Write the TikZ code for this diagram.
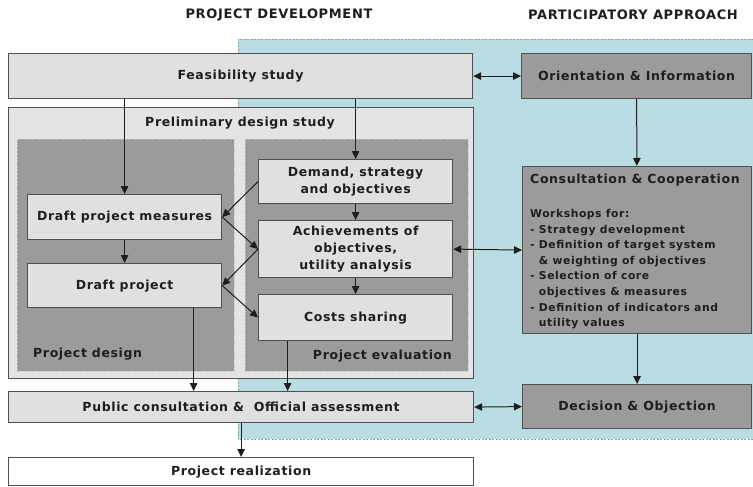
\documentclass[tikz,border=0pt]{standalone}
\usepackage{fontspec}
\setmainfont{DejaVu Sans}[LetterSpace=5]
\usetikzlibrary{arrows.meta,calc}

\definecolor{cCyan}{HTML}{B9DDE2}
\definecolor{cLight}{HTML}{E0E0E0}
\definecolor{cPrelim}{HTML}{E4E4E4}
\definecolor{cDark}{HTML}{9B9B9B}
\definecolor{cEdge}{HTML}{505050}
\definecolor{cDot}{HTML}{C4C4C4}
\definecolor{cBgEdge}{HTML}{8FA3A6}
\definecolor{cInk}{HTML}{1E1E1E}

\tikzset{
  boxbase/.style={draw=cEdge, line width=1.2pt, inner sep=0pt, anchor=north west,
    font=\fontsize{12.5}{17}\selectfont\bfseries, text=cInk, align=center},
  lbox/.style={boxbase, fill=cLight},
  dbox/.style={boxbase, fill=cDark},
  wbox/.style={boxbase, fill=white},
  pbox/.style={boxbase, fill=cPrelim},
  subarea/.style={anchor=north west, inner sep=0pt, fill=cDark, draw=cDot,
    line width=0.8pt, dash pattern=on 1.2pt off 1.2pt},
  lbl/.style={inner sep=0pt, font=\fontsize{12.5}{17}\selectfont\bfseries, text=cInk},
  smalltxt/.style={inner sep=0pt, font=\fontsize{10.8}{15.6}\selectfont\bfseries, text=cInk, align=left},
  head/.style={inner sep=0pt, font=\fontsize{13}{15}\selectfont\bfseries, text=cInk},
  arr/.style={draw=cInk, line width=1pt, -{Triangle[length=8pt,width=7.5pt]}},
  darr/.style={draw=cInk, line width=1pt, {Triangle[length=8pt,width=7.5pt]}-{Triangle[length=8pt,width=7.5pt]}},
}

\begin{document}
\begin{tikzpicture}[x=1pt,y=-1pt]
\useasboundingbox (0,0) rectangle (753,487);

% participatory approach background
\fill[cCyan] (238,39) rectangle (753,439);
\draw[cBgEdge, line width=0.8pt, dash pattern=on 2pt off 1.5pt]
  (753,39) -- (238,39) -- (238,439) -- (753,439);

% column headings
\node[head] (hdev) at (279,15) {PROJECT DEVELOPMENT};
\node[head] (hpart) at (633,15) {PARTICIPATORY APPROACH};

% project development column
\node[lbox, minimum width=464pt, minimum height=45pt] (feas) at (8,53) {Feasibility study};
\node[pbox, minimum width=465pt, minimum height=271pt] (prelim) at (8,107) {};
\node[lbl] (prelimlbl) at (240,123) {Preliminary design study};
\node[subarea, minimum width=217pt, minimum height=232pt] (design) at (17,139) {};
\node[subarea, minimum width=223pt, minimum height=232pt] (evalu) at (245,139) {};

\node[lbox, minimum width=194pt, minimum height=44pt] (demand) at (258,159) {Demand, strategy\\and objectives};
\node[lbox, minimum width=194pt, minimum height=45pt] (measures) at (27,194) {Draft project measures};
\node[lbox, minimum width=194pt, minimum height=57pt] (achieve) at (258,220) {Achievements of\\objectives,\\utility analysis};
\node[lbox, minimum width=194pt, minimum height=44pt] (draft) at (27,263) {Draft project};
\node[lbox, minimum width=194pt, minimum height=46pt] (costs) at (258,294) {Costs sharing};

\node[lbl, anchor=west] (designlbl) at (33,354) {Project design};
\node[lbl, anchor=east] (evallbl) at (452,356) {Project evaluation};

\node[lbox, minimum width=465pt, minimum height=31pt] (public) at (8,391) {Public consultation \&\ \ Official assessment};
\node[wbox, minimum width=465pt, minimum height=28pt] (realiz) at (8,457) {Project realization};

% participatory approach column
\node[dbox, minimum width=230pt, minimum height=45pt] (orient) at (521,53) {Orientation \& Information};
\node[dbox, minimum width=229pt, minimum height=167pt] (cons) at (522,166) {};
\node[lbl, anchor=base west] (constitle) at (530,183.5) {Consultation \& Cooperation};
\node[smalltxt, anchor=north west] (conslist) at (530,209) {Workshops for:\\
- Strategy development\\
- Definition of target system\\
\phantom{- }\& weighting of objectives\\
- Selection of core\\
\phantom{- }objectives \& measures\\
- Definition of indicators and\\
\phantom{- }utility values};
\node[dbox, minimum width=229pt, minimum height=44pt] (decis) at (522,384) {Decision \& Objection};

% flow within project development
\draw[arr] (feas.south -| measures.north) -- (measures.north);
\draw[arr] (feas.south -| demand.north) -- (demand.north);
\draw[arr] (demand) -- (achieve);
\draw[arr] (achieve) -- (costs);
\draw[arr] (measures) -- (draft);
\draw[arr] (demand.west) -- (measures.east);
\draw[arr] (measures.east) -- (achieve.west);
\draw[arr] (achieve.west) -- (draft.east);
\draw[arr] (draft.east) -- (costs.west);
\coordinate (dpout) at ($(draft.south)+(69,0)$);
\coordinate (csout) at ($(costs.south)+(-68,0)$);
\draw[arr] (dpout) -- (dpout |- public.north);
\draw[arr] (csout) -- (csout |- public.north);
\draw[arr] (public) -- (realiz);

% flow within participatory approach
\draw[arr] (orient) -- (cons);
\draw[arr] (cons) -- (decis);

% links between the two columns
\draw[darr] (feas.east) -- (orient.west);
\draw[darr] (achieve.east) -- (cons.west);
\draw[darr] (public.east) -- (decis.west);
\end{tikzpicture}
\end{document}
